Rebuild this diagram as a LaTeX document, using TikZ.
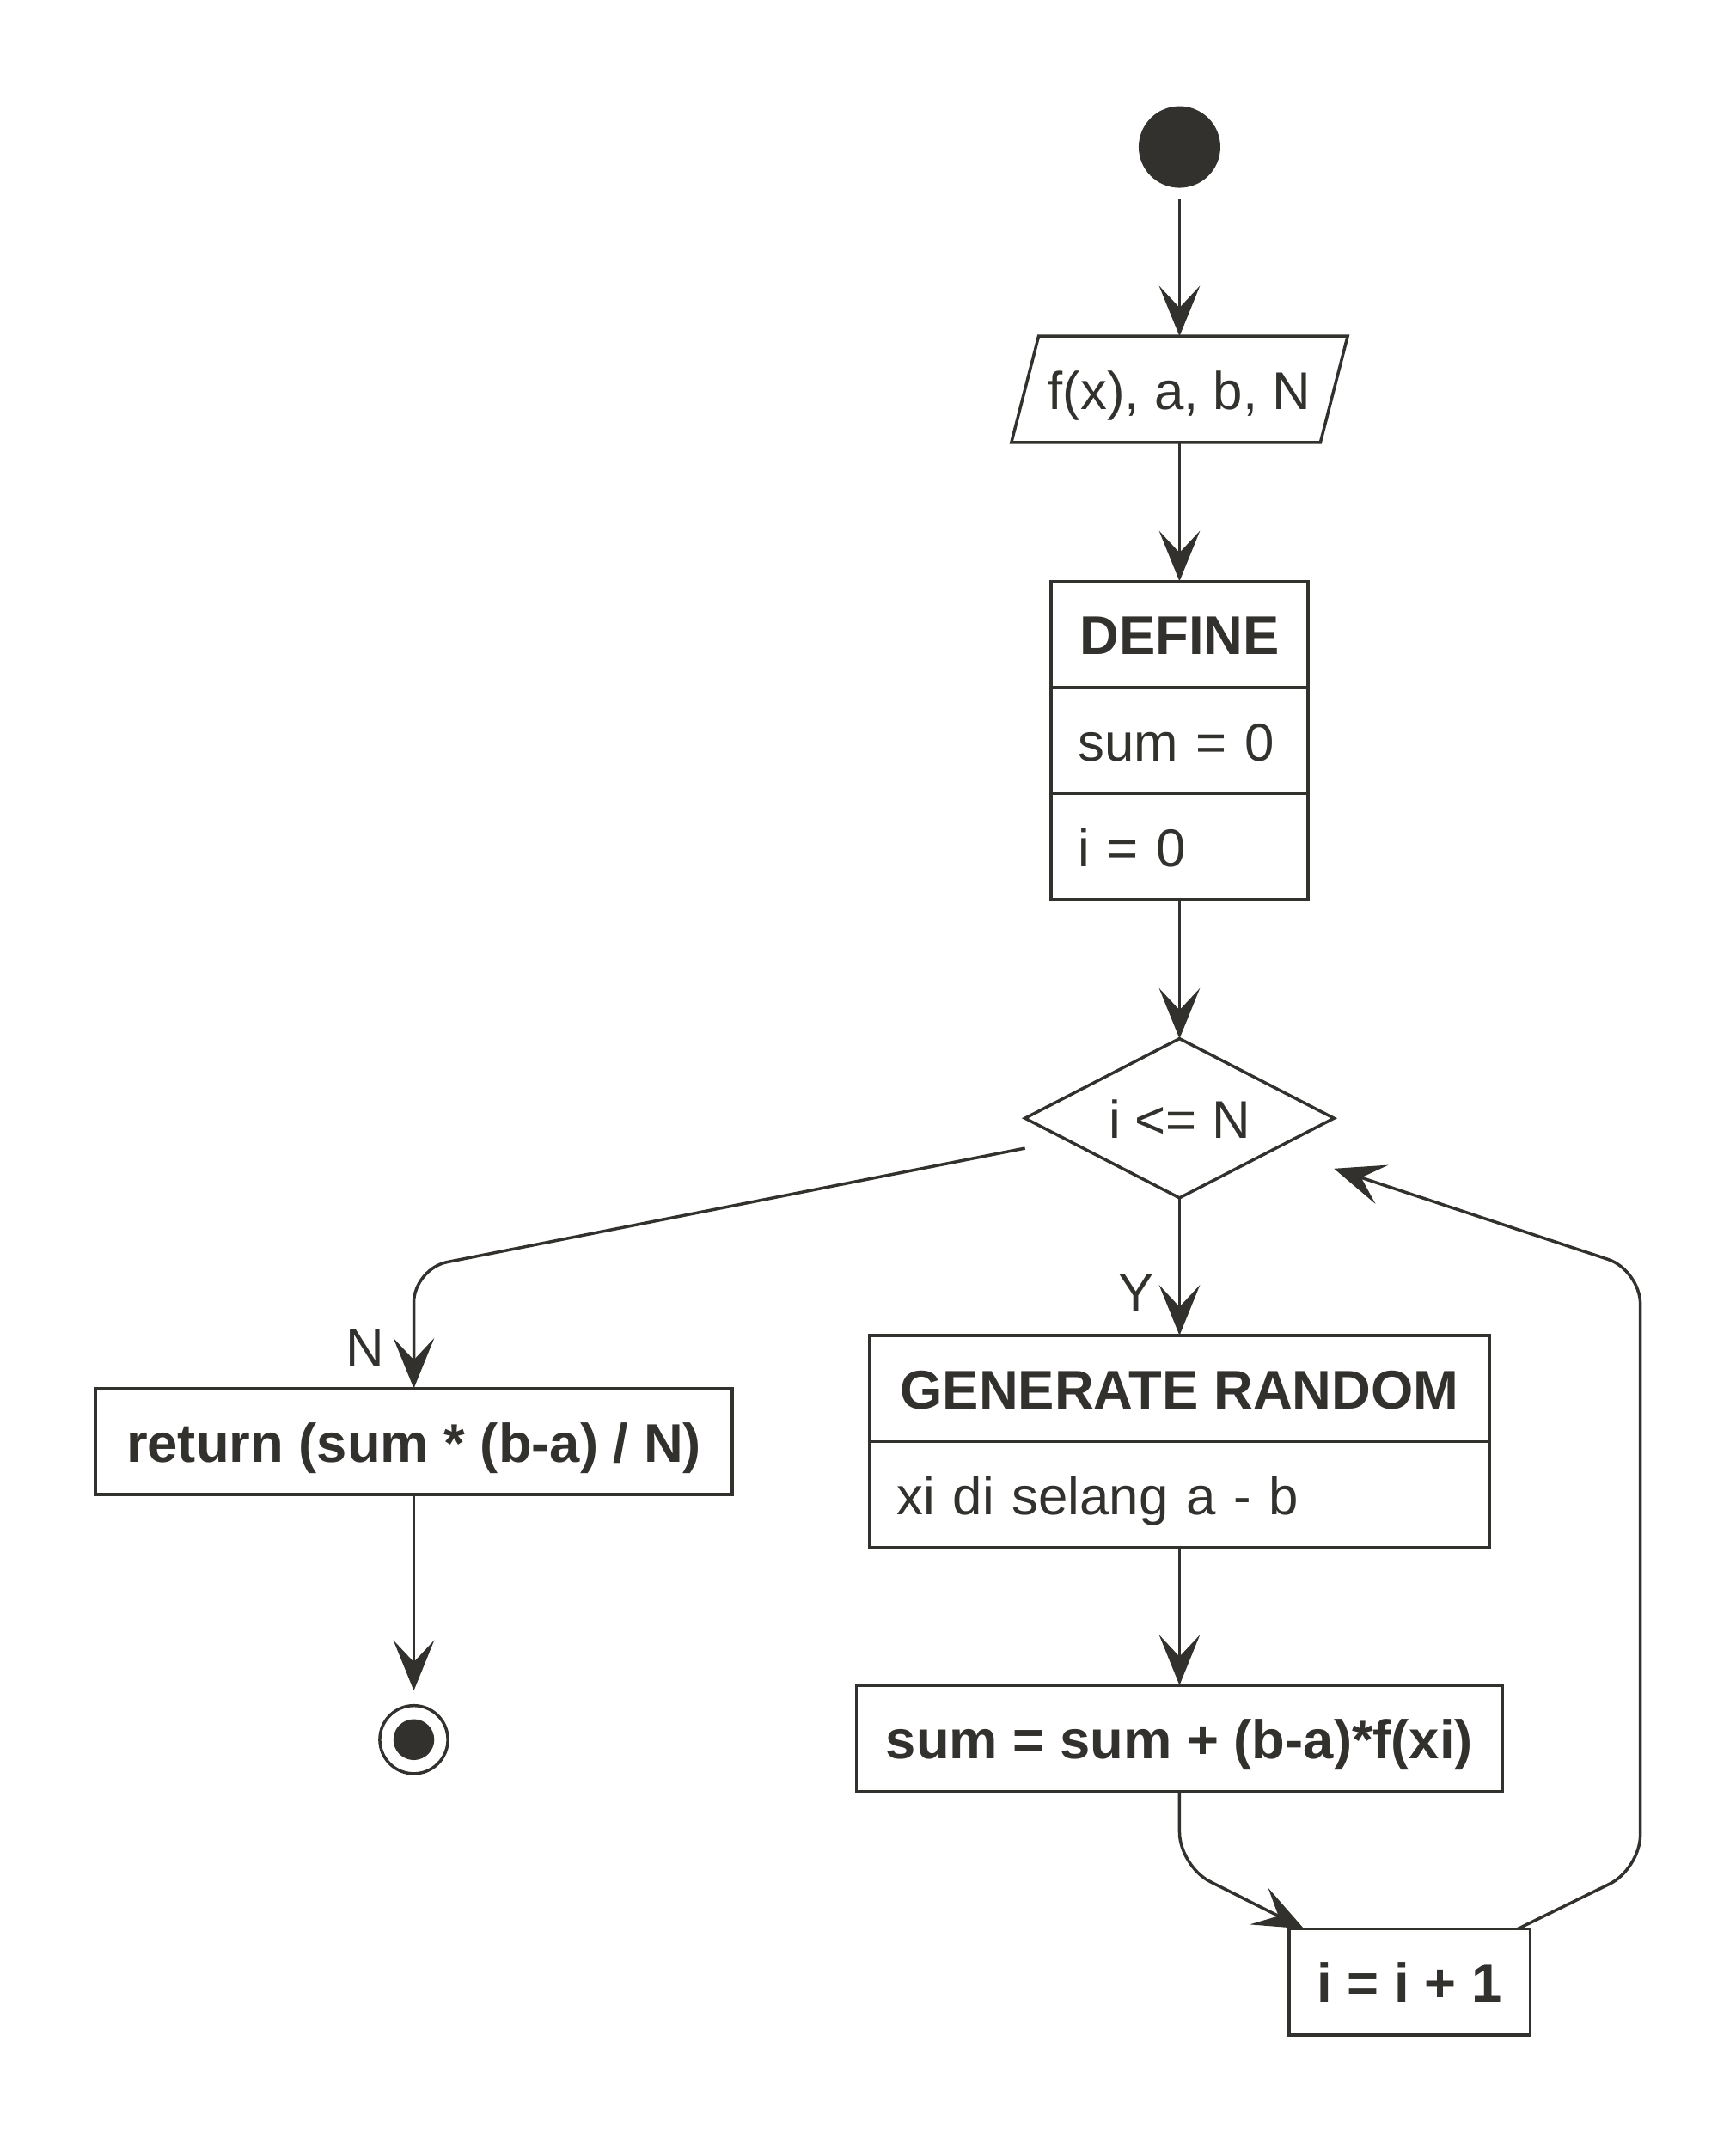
\documentclass[tikz,border=0pt]{standalone}
\usepackage{fontspec}
\setmainfont{Liberation Sans}
\usepackage{xcolor}
\usepackage{tikz}
\usetikzlibrary{arrows.meta,positioning,shapes.geometric}
\definecolor{ink}{HTML}{33312D}
\newcommand{\chartfont}{\fontsize{39}{47}\selectfont}
\newcommand{\headfont}{\fontsize{40}{48}\selectfont\bfseries}

\begin{document}
\begin{tikzpicture}[->,>={Stealth[length=37pt,width=30pt,inset=16pt]},
                    x=1pt,y=1pt,node distance=101pt,line width=2.2pt,color=ink]
\tikzstyle{every node}=[font=\chartfont,outer sep=0pt]
\tikzstyle{box}=[rectangle,inner sep=0pt,minimum height=78pt,
                 text height=31pt,text depth=1pt,align=center]
\tikzstyle{title}=[box,draw,font=\headfont]
\tikzstyle{entry}=[box,draw,align=left,inner xsep=20pt]
\tikzstyle{tag}=[inner sep=0pt]
\useasboundingbox (0,0) rectangle (1275,-1567);

\node[circle,fill,minimum size=60pt,inner sep=0pt] (START) at (866.5,-108) {};
\node[box,minimum width=247pt] (INPUT) [below=109pt of START] {f(x), a, b, N};
\draw[-] ([xshift=20pt]INPUT.north west) -- (INPUT.north east)
      -- ([xshift=-20pt]INPUT.south east) -- (INPUT.south west) -- cycle;
\node[title,minimum width=189pt] (DEF) [below=102pt of INPUT] {DEFINE};
\node[entry,text width=149pt] (DEFSUM) [below=0pt of DEF] {sum = 0};
\node[entry,text width=149pt] (DEFI) [below=0pt of DEFSUM] {i = 0};
\node[diamond,draw,aspect=1.94,inner sep=0pt,minimum width=227pt,
      minimum height=117pt,text height=30pt,text depth=0pt]
      (COND) [below=102pt of DEFI] {i <= N};
\node[title,minimum width=455pt] (GEN) [below=of COND] {GENERATE RANDOM};
\node[entry,text width=415pt] (GENXI) [below=0pt of GEN] {xi di selang a - b};
\node[title,minimum width=475pt] (SUM) [below=of GENXI] {sum = sum + (b-a)*f(xi)};
\node[title,minimum width=177pt] (INC) [below=of SUM,xshift=169pt] {i = i + 1};
\node[title,minimum width=468pt] (RET) at (304,-1059) {return (sum * (b-a) / N)};
\node[circle,draw,minimum size=50pt,inner sep=0pt] (STOP) [below=155pt of RET] {};
\fill[-] (STOP) circle (15pt);

\coordinate (NOUT) at ([yshift=-22pt]COND.west);
\coordinate (NBEND) at ([yshift=88pt]RET.north);
\coordinate (SBEND) at ([yshift=-55pt]SUM.south);
\coordinate (RLOW) at (1205,-1373);
\coordinate (RHIGH) at (1205,-933);
\coordinate (LOOPIN) at ([yshift=-37pt]COND.east);

\draw[shorten <=8pt] (START) -- (INPUT);
\path (INPUT) edge (DEF)
      (DEFI) edge (COND)
      (COND) edge node[tag,left=19pt,pos=0.69] {Y} (GEN)
      (GENXI) edge (SUM);
\draw[rounded corners=25pt] (NOUT) -- (NBEND)
      -- node[tag,left=22pt,pos=0.66] {N} (RET);
\draw[shorten >=11pt] (RET) -- (STOP);
\draw[rounded corners=25pt] (SUM.south) -- (SBEND) -- (INC);
\draw[rounded corners=25pt] (INC) -- (RLOW) -- (RHIGH) -- (LOOPIN);
\end{tikzpicture}
\end{document}
